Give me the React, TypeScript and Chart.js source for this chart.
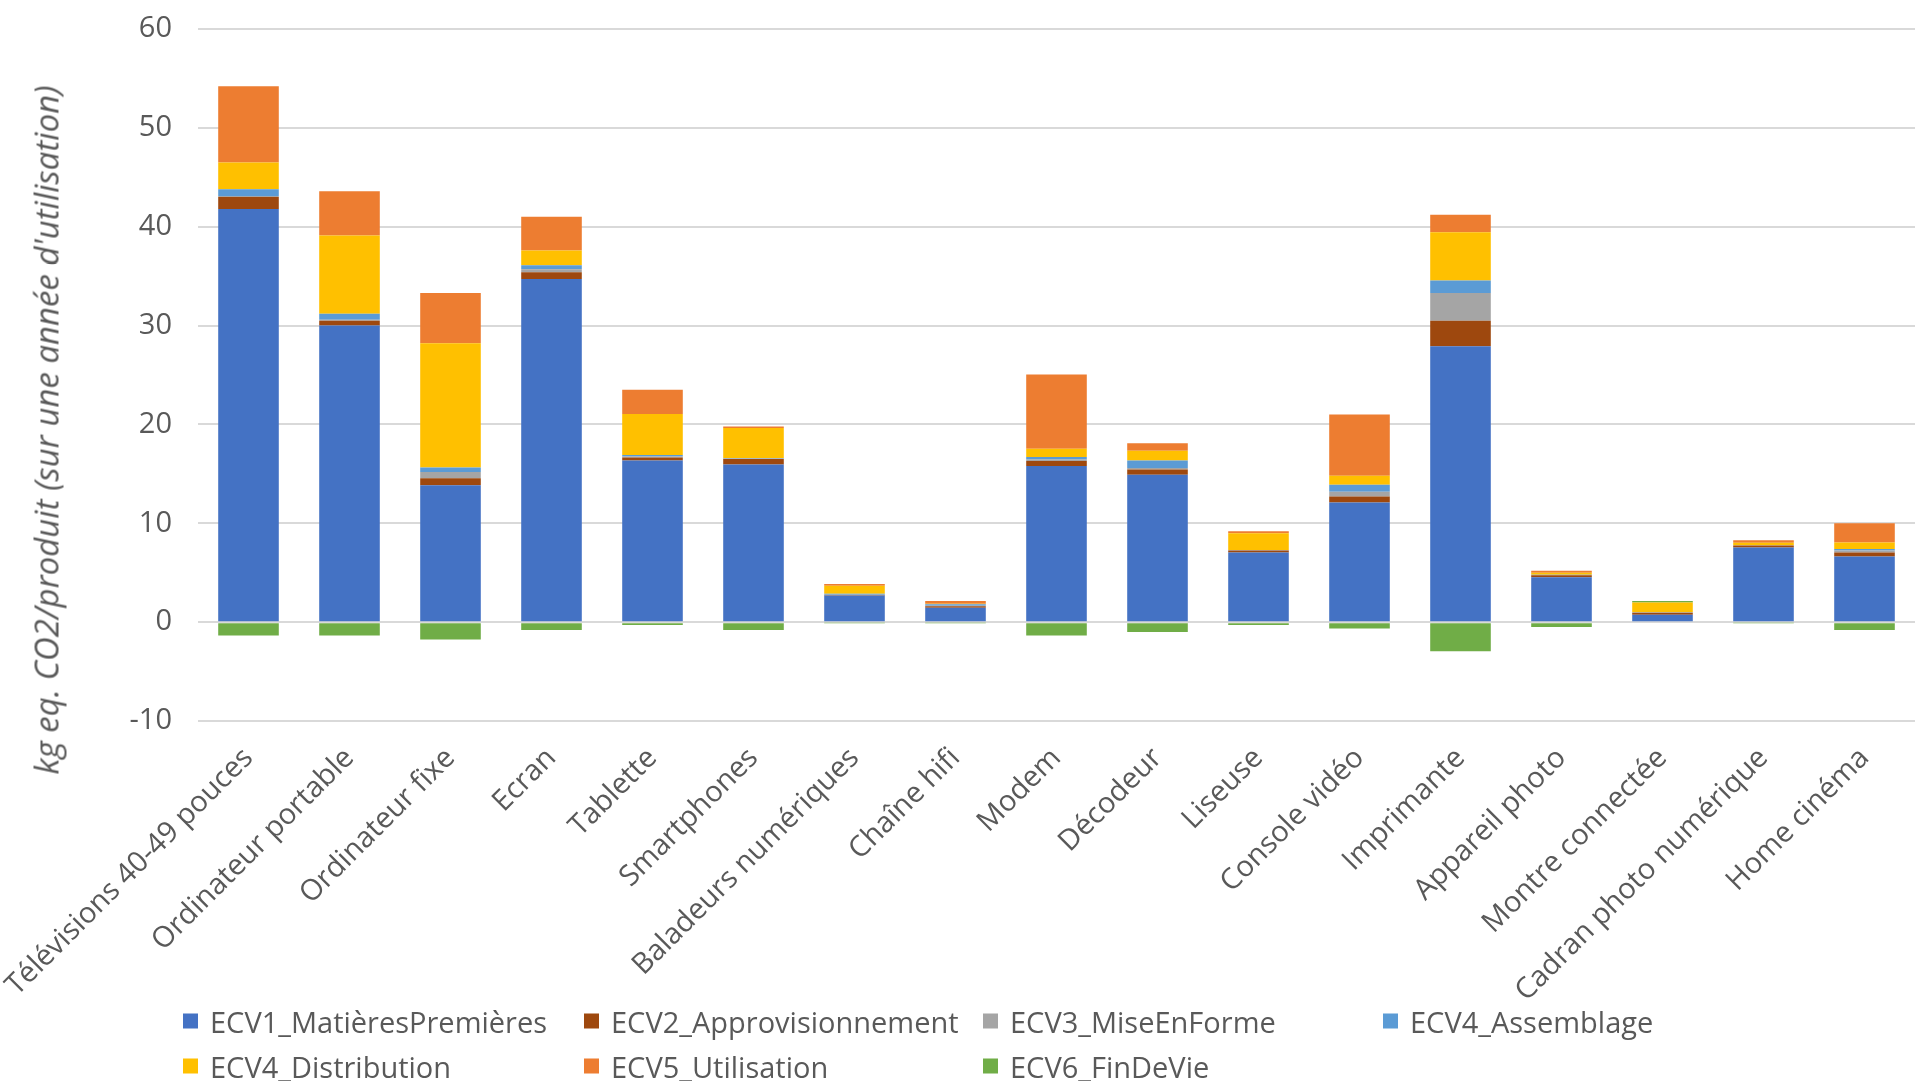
import React, { useEffect, useRef } from "react";
import { Chart, registerables } from "chart.js";

Chart.register(...registerables);

const categories = [
  "Télévisions 40-49 pouces",
  "Ordinateur portable",
  "Ordinateur fixe",
  "Ecran",
  "Tablette",
  "Smartphones",
  "Baladeurs numériques",
  "Chaîne hifi",
  "Modem",
  "Décodeur",
  "Liseuse",
  "Console vidéo",
  "Imprimante",
  "Appareil photo",
  "Montre connectée",
  "Cadran photo numérique",
  "Home cinéma",
];

const seriesNames = [
  "ECV1_MatièresPremières",
  "ECV2_Approvisionnement",
  "ECV3_MiseEnForme",
  "ECV4_Assemblage",
  "ECV4_Distribution",
  "ECV5_Utilisation",
  "ECV6_FinDeVie",
];

const seriesColors = ["#4472C4", "#9E480E", "#A5A5A5", "#5B9BD5", "#FFC000", "#ED7D31", "#70AD47"];

const ecv1MatieresPremieres = [41.8, 30.0, 13.85, 34.7, 16.35, 15.95, 2.7, 1.45, 15.8, 14.9, 7.05, 12.1, 27.9, 4.55, 0.75, 7.55, 6.65];
const ecv2Approvisionnement = [1.2, 0.5, 0.7, 0.7, 0.3, 0.55, 0.05, 0.15, 0.5, 0.55, 0.2, 0.6, 2.6, 0.2, 0.2, 0.2, 0.4];
const ecv3MiseEnForme = [0.1, 0.1, 0.65, 0.3, 0.1, 0.05, 0.02, 0.05, 0.15, 0.15, 0.02, 0.5, 2.8, 0.02, 0.02, 0.02, 0.2];
const ecv4Assemblage = [0.7, 0.6, 0.45, 0.4, 0.15, 0.05, 0.1, 0.15, 0.25, 0.75, 0.02, 0.7, 1.25, 0.02, 0.02, 0.02, 0.15];
const ecv4Distribution = [2.7, 7.9, 12.55, 1.5, 4.15, 3.05, 0.8, 0.05, 0.85, 1.0, 1.7, 0.9, 4.9, 0.2, 1.0, 0.25, 0.65];
const ecv5Utilisation = [7.7, 4.5, 5.1, 3.4, 2.45, 0.15, 0.2, 0.3, 7.5, 0.75, 0.2, 6.2, 1.75, 0.2, 0, 0.25, 1.95];
const ecv6FinDeVie = [-1.35, -1.35, -1.75, -0.8, -0.3, -0.8, -0.05, -0.05, -1.35, -1.0, -0.3, -0.65, -2.95, -0.5, 0.15, -0.05, -0.8];

const seriesValues = [
  ecv1MatieresPremieres,
  ecv2Approvisionnement,
  ecv3MiseEnForme,
  ecv4Assemblage,
  ecv4Distribution,
  ecv5Utilisation,
  ecv6FinDeVie,
];

const yMin = -10;
const yMax = 60;
const yStep = 10;
const yTitle = "kg eq. CO2/produit (sur une année d'utilisation)";

const FONT = "'Open Sans', sans-serif";
const TEXT_COLOR = "#595959";
const W = 1915;
const H = 1081;

export default function App() {
  const canvasRef = useRef<HTMLCanvasElement | null>(null);

  useEffect(() => {
    document.body.style.margin = "0";
    const canvas = canvasRef.current;
    if (!canvas) return;
    const chart = new Chart(canvas, {
      type: "bar",
      data: {
        labels: categories,
        datasets: seriesNames.map((name, i) => ({
          label: name,
          data: seriesValues[i],
          backgroundColor: seriesColors[i],
          borderWidth: 0,
          barPercentage: 0.6,
          categoryPercentage: 1,
          stack: "s",
        })),
      },
      options: {
        animation: false,
        responsive: false,
        maintainAspectRatio: false,
        devicePixelRatio: 1,
        layout: { padding: { top: 29, right: 0, bottom: 0, left: 0 } },
        plugins: {
          legend: { display: false },
          tooltip: { enabled: false },
        },
        scales: {
          x: {
            stacked: true,
            grid: { display: false, drawTicks: false },
            border: { display: false },
            ticks: {
              color: TEXT_COLOR,
              font: { family: FONT, size: 29 },
              maxRotation: 45,
              minRotation: 45,
              autoSkip: false,
              padding: 20,
            },
            afterFit: (scale: any) => {
              scale.height = H - 721;
              scale.paddingLeft = 0;
              scale.paddingRight = 0;
              scale.paddingTop = 0;
              scale.paddingBottom = 0;
            },
          },
          y: {
            stacked: true,
            min: yMin,
            max: yMax,
            grid: { color: "#D9D9D9", lineWidth: 2, drawTicks: false },
            border: { display: false },
            ticks: {
              stepSize: yStep,
              color: TEXT_COLOR,
              font: { family: FONT, size: 29 },
              padding: 26,
            },
            afterFit: (scale: any) => {
              scale.width = 198;
              scale.paddingTop = 0;
              scale.paddingBottom = 0;
            },
          },
        },
      },
    });
    return () => chart.destroy();
  }, []);

  const legendCols = [183, 584, 983, 1383];
  const legendRows = [1021, 1066];

  return (
    <div style={{ position: "relative", width: W, height: H, background: "#fff", overflow: "hidden" }}>
      <canvas ref={canvasRef} width={W} height={H} style={{ position: "absolute", left: 0, top: 0, width: W, height: H }} />
      <div
        style={{
          position: "absolute",
          left: 46,
          top: 430,
          transform: "translate(-50%, -50%) rotate(-90deg)",
          whiteSpace: "nowrap",
          fontFamily: FONT,
          fontStyle: "italic",
          fontSize: 33,
          color: TEXT_COLOR,
        }}
      >
        {yTitle}
      </div>
      {seriesNames.map((name, i) => {
        const col = i % 4;
        const row = Math.floor(i / 4);
        return (
          <div
            key={name}
            style={{
              position: "absolute",
              left: legendCols[col],
              top: legendRows[row],
              transform: "translateY(-50%)",
              display: "flex",
              alignItems: "center",
              whiteSpace: "nowrap",
              fontFamily: FONT,
              fontSize: 29,
              color: TEXT_COLOR,
            }}
          >
            <span style={{ display: "inline-block", width: 15, height: 15, background: seriesColors[i], marginRight: 12 }} />
            <span>{name}</span>
          </div>
        );
      })}
    </div>
  );
}
